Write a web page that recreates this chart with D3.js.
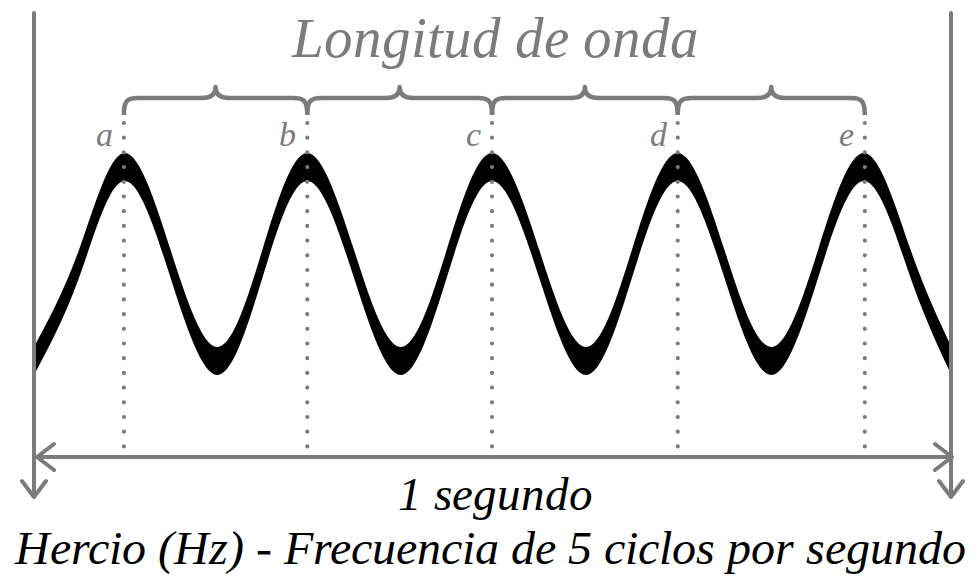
<!DOCTYPE html>
<html>
<head>
<meta charset="utf-8">
<script src="https://cdn.jsdelivr.net/npm/d3@7"></script>
<style>
  @font-face { font-family: 'WaveItalic'; src: local('Liberation Serif Italic'), local('LiberationSerif-Italic'); font-style: italic; }
  body { margin: 0; }
</style>
</head>
<body>
<div id="chart"></div>
<script>
// one second of a 5 Hz wave
var seconds = [0, 1];
var peakLabels = ['a', 'b', 'c', 'd', 'e'];
var peakTimes = [0.098, 0.298, 0.4995, 0.702, 0.906];
var waveTimes = [0, 0.049, 0.098, 0.149, 0.2, 0.249, 0.298, 0.349, 0.4, 0.45, 0.4995,
                 0.551, 0.602, 0.652, 0.702, 0.753, 0.804, 0.855, 0.906, 0.956, 1];
var waveAmps = [-1, 0, 1, 0, -1, 0, 1, 0, -1, 0, 1, 0, -1, 0, 1, 0, -1, 0, 1, 0, -0.99];
var titleText = 'Longitud de onda';
var durationText = '1 segundo';
var captionText = 'Hercio (Hz) - Frecuencia de 5 ciclos por segundo';

var gray = '#7b7b7b';
var fontName = 'WaveItalic';

var svg = d3.select('#chart').append('svg')
    .attr('width', 979)
    .attr('height', 586);

var x = d3.scaleLinear().domain([0, 1]).range([34, 951]);
var y = d3.scaleLinear().domain([-1, 1]).range([361, 167]);

function addText(str, px, py, size, color, anchor) {
    return svg.append('text')
        .attr('x', px)
        .attr('y', py)
        .attr('font-family', fontName)
        .attr('font-style', 'italic')
        .attr('font-size', size)
        .attr('text-anchor', anchor)
        .attr('fill', color)
        .text(str);
}

addText(titleText, 495, 57, 57, gray, 'middle');
addText(durationText, 495, 510, 47, '#000', 'middle');
addText(captionText, 490, 564, 48, '#000', 'middle');

peakTimes.forEach(function (t, i) {
    addText(peakLabels[i], x(t) - 11, 146, 34, gray, 'end');
});

var wave = waveTimes.map(function (t, i) { return { t: t, v: waveAmps[i] }; });
var halfThick = 14;

var ribbon = d3.area()
    .x(function (d) { return x(d.t); })
    .y0(function (d) { return y(d.v) + halfThick; })
    .y1(function (d) { return y(d.v) - halfThick; })
    .curve(d3.curveNatural);

svg.append('path')
    .datum(wave)
    .attr('d', ribbon)
    .attr('fill', '#000');

// dotted guides at each crest
svg.selectAll('.guide')
    .data(peakTimes)
    .enter().append('line')
    .attr('class', 'guide')
    .attr('x1', function (d) { return x(d); })
    .attr('x2', function (d) { return x(d); })
    .attr('y1', 123)
    .attr('y2', 452)
    .attr('stroke', gray)
    .attr('stroke-width', 4.2)
    .attr('stroke-linecap', 'round')
    .attr('stroke-dasharray', '0 14.7');

// curly braces between neighbouring crests
var braceTop = 98, braceEnd = 115, braceTip = 87;
function bracePath(x0, x1) {
    var m = (x0 + x1) / 2;
    return 'M' + x0 + ',' + braceEnd +
        'C' + x0 + ',' + (braceTop + 3) + ' ' + (x0 + 3) + ',' + braceTop + ' ' + (x0 + 14) + ',' + braceTop +
        'L' + (m - 14) + ',' + braceTop +
        'C' + (m - 4) + ',' + braceTop + ' ' + m + ',' + (braceTop - 4) + ' ' + m + ',' + braceTip +
        'C' + m + ',' + (braceTop - 4) + ' ' + (m + 4) + ',' + braceTop + ' ' + (m + 14) + ',' + braceTop +
        'L' + (x1 - 14) + ',' + braceTop +
        'C' + (x1 - 3) + ',' + braceTop + ' ' + x1 + ',' + (braceTop + 3) + ' ' + x1 + ',' + braceEnd;
}

svg.selectAll('.brace')
    .data(d3.pairs(peakTimes))
    .enter().append('path')
    .attr('class', 'brace')
    .attr('d', function (p) { return bracePath(x(p[0]), x(p[1])); })
    .attr('fill', 'none')
    .attr('stroke', gray)
    .attr('stroke-width', 4.5)
    .attr('stroke-linejoin', 'round');

// the two limits of the second
var arrowY = 457, tipY = 497;
svg.selectAll('.limit')
    .data(seconds)
    .enter().append('path')
    .attr('class', 'limit')
    .attr('d', function (d) {
        var px = x(d);
        return 'M' + px + ',13L' + px + ',' + tipY +
            'M' + (px - 12) + ',' + (tipY - 16) + 'L' + px + ',' + tipY + 'L' + (px + 12) + ',' + (tipY - 16);
    })
    .attr('fill', 'none')
    .attr('stroke', gray)
    .attr('stroke-width', 4)
    .attr('stroke-linecap', 'round')
    .attr('stroke-linejoin', 'round');

var x0 = x(seconds[0]) + 3, x1 = x(seconds[1]) + 1;
svg.append('path')
    .attr('d', 'M' + x0 + ',' + arrowY + 'L' + x1 + ',' + arrowY +
        'M' + (x0 + 17) + ',' + (arrowY - 13) + 'L' + x0 + ',' + arrowY + 'L' + (x0 + 17) + ',' + (arrowY + 13) +
        'M' + (x1 - 17) + ',' + (arrowY - 13) + 'L' + x1 + ',' + arrowY + 'L' + (x1 - 17) + ',' + (arrowY + 13))
    .attr('fill', 'none')
    .attr('stroke', gray)
    .attr('stroke-width', 4)
    .attr('stroke-linecap', 'round')
    .attr('stroke-linejoin', 'round');
</script>
</body>
</html>
